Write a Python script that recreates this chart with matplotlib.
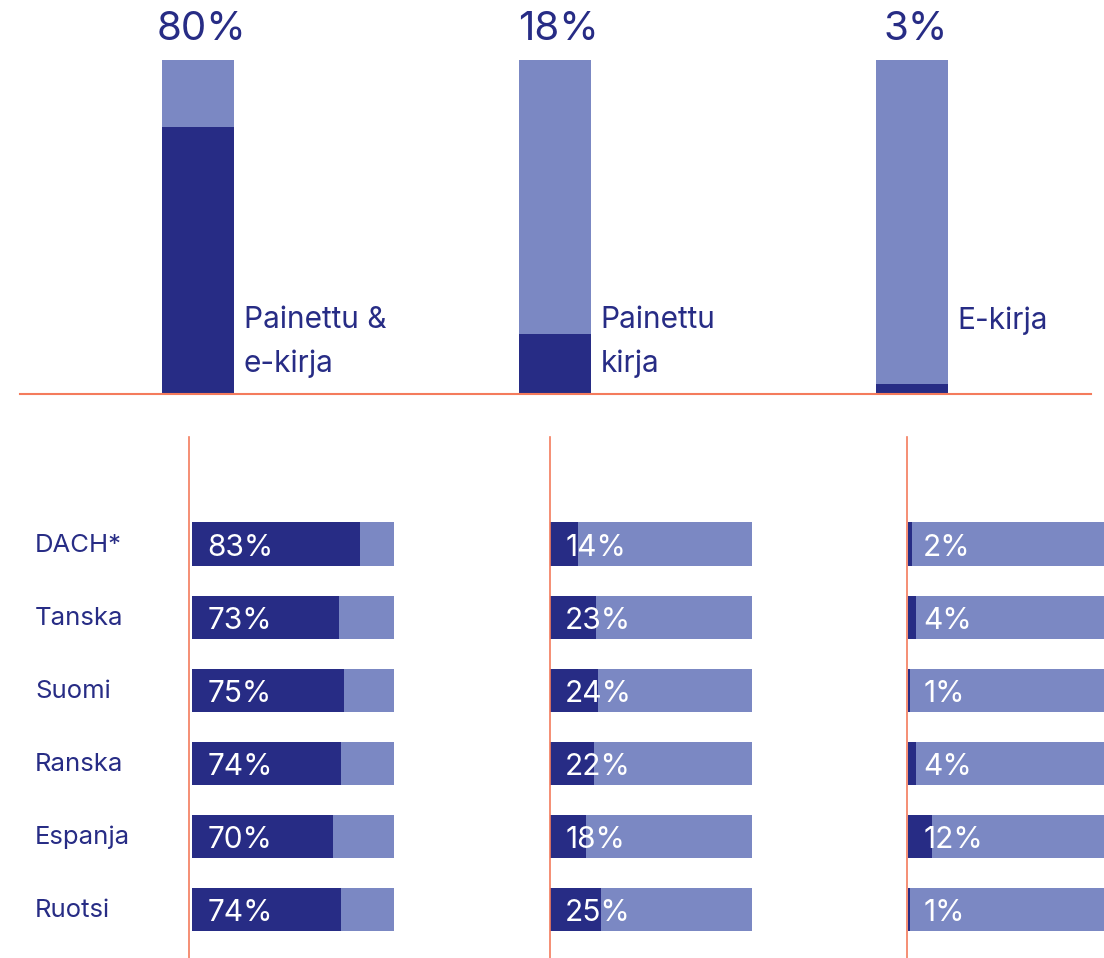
import matplotlib.pyplot as plt
import matplotlib.transforms as mtransforms

plt.rcParams['font.family'] = ['Inter', 'DejaVu Sans']

dark = '#272c85'
light = '#7b88c3'
orange = '#f47b5c'

# top panel: share of readers by format
formats = ['Painettu &\ne-kirja', 'Painettu\nkirja', 'E-kirja']
totals = [80, 18, 3]

# bottom panel: per country
countries = ['DACH*', 'Tanska', 'Suomi', 'Ranska', 'Espanja', 'Ruotsi']
both = [83, 73, 75, 74, 70, 74]
printed = [14, 23, 24, 22, 18, 25]
ebook = [2, 4, 1, 4, 12, 1]

W, H = 1104, 958
fig = plt.figure(figsize=(W / 100, H / 100), dpi=100)


def px(x0, y0, x1, y1):
    # pixel box (top-left origin) -> figure fraction rect
    return [x0 / W, 1 - y1 / H, (x1 - x0) / W, (y1 - y0) / H]


# ---- top bars
ax = fig.add_axes(px(19.5, 60, 1090.5, 394))
xs = range(len(totals))
ax.bar(xs, [1] * 3, width=0.2, color=light)
ax.bar(xs, [t / 100 for t in totals], width=0.2, color=dark)
for x, t, name in zip(xs, totals, formats):
    ax.text(x + 0.01, 1.09, f'{t}%', ha='center', va='center', fontsize=29,
            color=dark, clip_on=False)
    ax.text(x + 0.128, 0.262, name, ha='left', va='top', fontsize=21.5,
            color=dark, linespacing=1.65)
ax.set_xlim(-0.5, 2.5)
ax.set_ylim(0, 1)
for s in ['top', 'left', 'right']:
    ax.spines[s].set_visible(False)
ax.spines['bottom'].set_color(orange)
ax.spines['bottom'].set_linewidth(1.5)
ax.set_xticks([])
ax.set_yticks([])

# ---- bottom small multiples
lefts = [189, 550, 907]
gaps = [3, 0, 1]
groups = [both, printed, ebook]
ys = list(range(len(countries)))
for i, (left, gap, vals) in enumerate(zip(lefts, gaps, groups)):
    a = fig.add_axes(px(left, 437, left + 210, 958))
    off = gap / 202
    a.barh(ys, [1] * len(ys), left=off, height=0.59, color=light)
    a.barh(ys, [v / 100 for v in vals], left=off, height=0.59, color=dark)
    for y, v in zip(ys, vals):
        a.text(off + 0.075, y + 0.06, f'{v}%', ha='left', va='center',
               fontsize=21.5, color='white')
    a.set_xlim(0, 210 / 202)
    a.set_ylim(5.67, -1.466)
    for s in ['top', 'bottom', 'right']:
        a.spines[s].set_visible(False)
    a.spines['left'].set_color(orange)
    a.spines['left'].set_linewidth(1.2)
    a.set_xticks([])
    a.set_yticks([])
    if i == 0:
        tr = mtransforms.blended_transform_factory(fig.transFigure, a.transData)
        for y, c in zip(ys, countries):
            a.text(35 / W, y + 0.02, c, transform=tr, ha='left', va='center',
                   fontsize=18.5, color=dark)

fig.savefig('out.png', dpi=100)
